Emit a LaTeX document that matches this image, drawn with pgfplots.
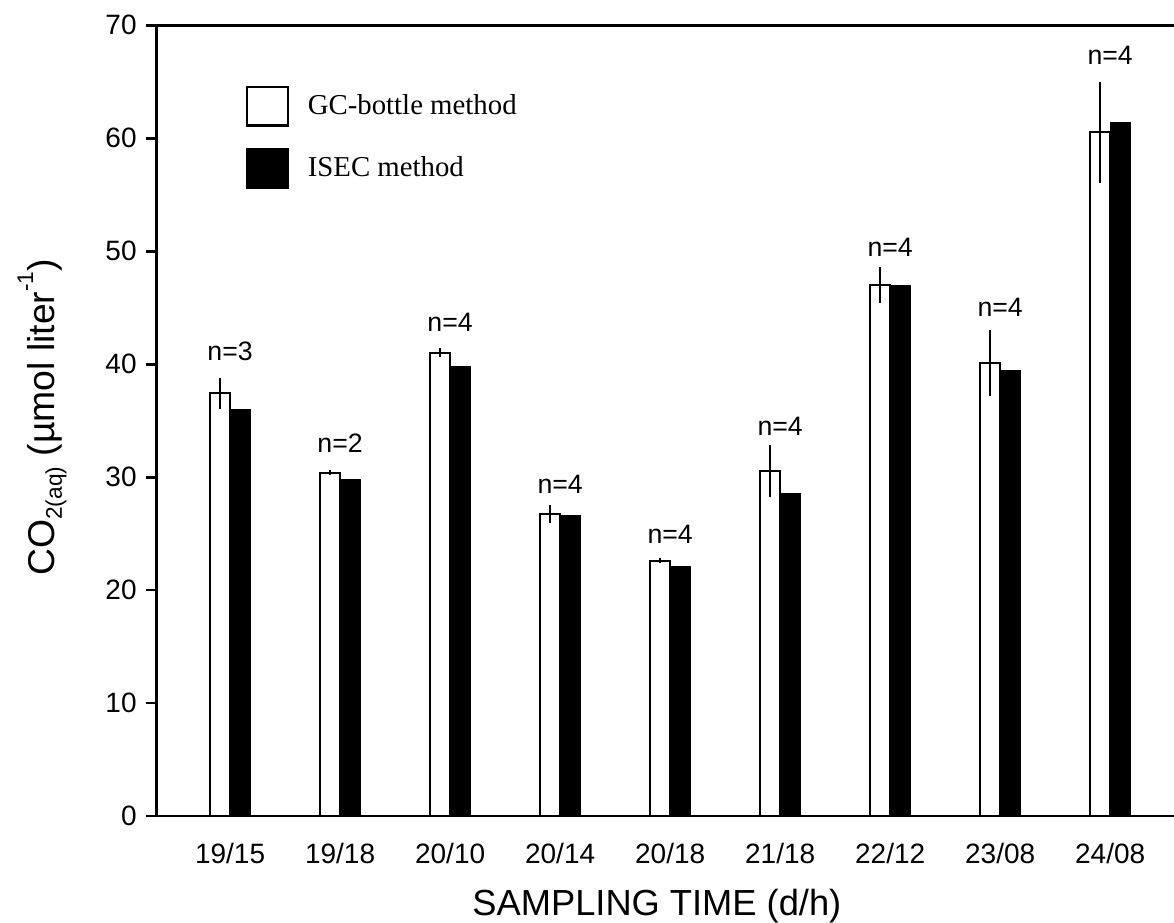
\documentclass[border=0pt]{standalone}
\usepackage{fontspec}
\setmainfont{Liberation Sans}
\newfontfamily\legfont{Liberation Serif}
\usepackage{pgfplots}
\usepackage{pgfplotstable}
\pgfplotsset{compat=1.18}
\usetikzlibrary{calc}

\pgfplotstableread{
x gc err isec ly lab
0 37.4 1.4 36.0 40.2 n=3
1 30.4 0.2 29.8 32.1 n=2
2 41.0 0.4 39.8 42.8 n=4
3 26.7 0.8 26.6 28.5 n=4
4 22.6 0.2 22.1 24.1 n=4
5 30.5 2.3 28.5 33.6 n=4
6 47.0 1.6 46.9 49.5 n=4
7 40.1 2.9 39.4 44.2 n=4
8 60.5 4.5 61.4 66.5 n=4
}\data

\begin{document}
\begin{tikzpicture}
\begin{axis}[
  name=ax,
  scale only axis,
  width=381.6pt, height=296.5pt,
  xmin=-0.673, xmax=8.58,
  ymin=0, ymax=70,
  axis x line=box,
  axis y line=left,
  axis line style={-, line width=1.1pt},
  xtick={0,...,8},
  xticklabels={19/15,19/18,20/10,20/14,20/18,21/18,22/12,23/08,24/08},
  x tick style={draw=none},
  xticklabel style={font=\fontsize{10.5}{12}\selectfont, yshift=-3pt},
  ytick={0,10,...,70},
  ytick pos=left,
  tick align=outside,
  major tick length=3.75pt,
  y tick style={line width=1.1pt, black},
  yticklabel style={font=\fontsize{10.5}{12}\selectfont},
  /pgf/number format/assume math mode=true,
  xlabel={SAMPLING TIME (d/h)},
  xlabel style={at={(axis description cs:0.492,0)}, anchor=north, inner sep=0pt, yshift=-27.2pt, font=\fontsize{13.6}{15}\selectfont},
  ylabel={CO\raisebox{-0.35ex}{\fontsize{8.5}{9}\selectfont 2(aq)} (µmol liter\raisebox{1.1ex}{\fontsize{8.5}{9}\selectfont -1})},
  ylabel style={at={(axis description cs:-0.112,0.504)}, anchor=center, rotate=0, font=\fontsize{14}{16}\selectfont},
  legend style={draw=none, fill=none, at={(rel axis cs:0.0875,0.924)}, anchor=north west, inner sep=0pt,
    font=\legfont\fontsize{10.8}{12}\selectfont, row sep=8pt, cells={anchor=west},
    /tikz/every odd column/.append style={column sep=5pt}},
  legend cell align=left,
]
\addplot[ybar, bar width=7.5pt, bar shift=-3.75pt, fill=white, draw=black, line width=0.75pt,
  legend image code/.code={\draw[black, fill=white, line width=0.9pt] (0pt,-7.2pt) rectangle (15.4pt,7.2pt);},
  error bars/.cd, y dir=both, y explicit, error mark=none,
  error bar style={line width=0.75pt, black, xshift=-3.75pt}]
  table[x=x, y=gc, y error=err]{\data};
\addlegendentry{GC-bottle method}
\addplot[ybar, bar width=7.5pt, bar shift=3.75pt, fill=black, draw=black, line width=0.5pt,
  legend image code/.code={\draw[black, fill=black, line width=0.9pt] (0pt,-7.2pt) rectangle (15.4pt,7.2pt);}]
  table[x=x, y=isec]{\data};
\addlegendentry{ISEC method}
\addplot[draw=none, mark=none, forget plot, nodes near coords, point meta=explicit symbolic,
  every node near coord/.append style={anchor=south, inner sep=0pt, font=\fontsize{10}{11}\selectfont}]
  table[x=x, y=ly, meta=lab]{\data};
\end{axis}
\pgfresetboundingbox
\path[use as bounding box] ($(ax.south west)+(-58.5pt,-40.1pt)$) rectangle ($(ax.north east)+(0pt,9.4pt)$);
\end{tikzpicture}
\end{document}
